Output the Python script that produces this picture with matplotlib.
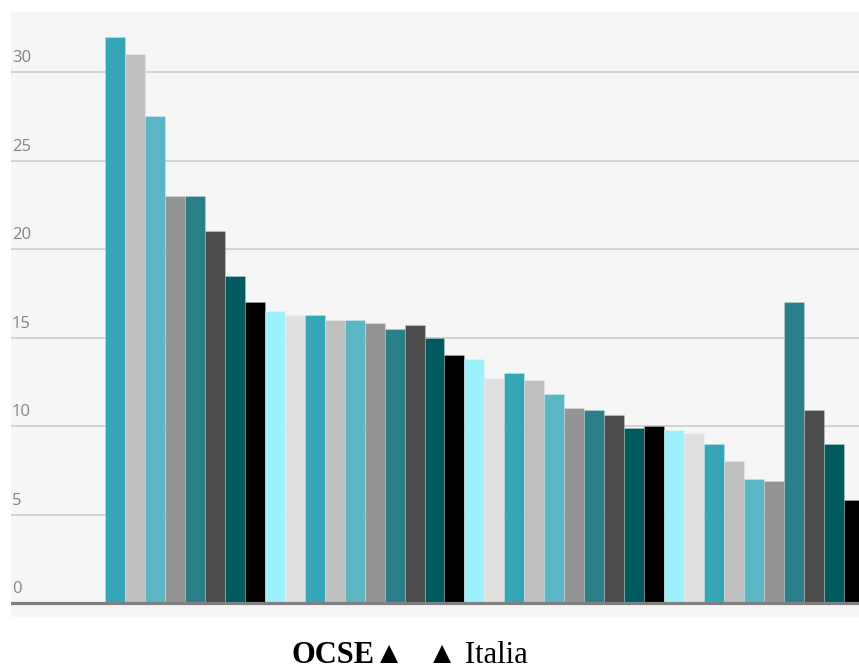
import matplotlib.pyplot as plt
from matplotlib import transforms

# valori (38 barre, nessuna etichetta di categoria visibile)
values = [32, 31, 27.5, 23, 23, 21, 18.5, 17, 16.5, 16.3,
          16.3, 16.0, 16.0, 15.8, 15.5, 15.7, 15.0, 14.0, 13.8, 12.7,
          13.0, 12.6, 11.8, 11.0, 10.9, 10.6, 9.9, 10.0, 9.8, 9.6,
          9.0, 8.0, 7.0, 6.9, 17.0, 10.9, 9.0, 5.8]
y_ticks = [5, 10, 15, 20, 25, 30]
y_labels = ["5", "10", "15", "20", "25", "30"]
palette = ["#36a6b7", "#c0c0c0", "#5bb7c4", "#949494", "#2a7f88",
           "#4d4d4d", "#005a60", "#000000", "#9ef2fd", "#e0e0e0"]

W, H = 859, 668
fig = plt.figure(figsize=(W / 100, H / 100), dpi=100)
fig.patch.set_facecolor("white")

ax = fig.add_axes([11 / W, (H - 617) / H, 848 / W, 605 / H])
ax.set_facecolor("#f6f6f6")

x = list(range(len(values)))
colors = [palette[i % len(palette)] for i in x]
ax.bar(x, values, width=1.0, color=colors, edgecolor=(1, 1, 1, 0.25),
       linewidth=0.6, zorder=3)

ax.set_xlim(-5.21, 37.26)
ax.set_ylim(-0.79, 33.39)

# griglia orizzontale e linea di base
for t in y_ticks:
    ax.axhline(t, color="#cccccc", linewidth=1.2, zorder=1)
ax.axhline(0, color="#808080", linewidth=2.3, zorder=4)

# etichette asse y sopra le linee
trans = transforms.blended_transform_factory(ax.transAxes, ax.transData)
for t, lab in zip([0] + y_ticks, ["0"] + y_labels):
    ax.text(0.001, t + 0.33, lab, transform=trans, ha="left", va="bottom",
            fontsize=12, color="#858585", family=["Open Sans", "DejaVu Sans"])

ax.set_xticks([])
ax.set_yticks([])
for s in ax.spines.values():
    s.set_visible(False)

# legenda testuale in basso
fig.text(405 / W, 0.008, "OCSE▲", ha="right", va="baseline", fontsize=22,
         fontweight="bold", family=["Liberation Serif", "DejaVu Serif"])
fig.text(427 / W, 0.008, "▲ Italia", ha="left", va="baseline", fontsize=22,
         family=["Liberation Serif", "DejaVu Serif"])

fig.savefig("out.png", dpi=100, facecolor="white")
plt.close(fig)
